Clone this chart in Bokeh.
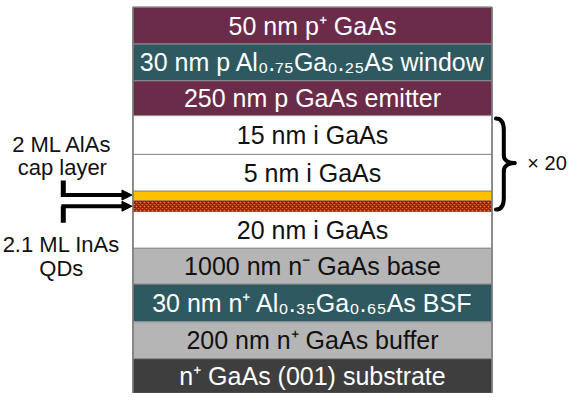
from bokeh.plotting import figure
from bokeh.models import Range1d, Arrow, NormalHead, ColumnDataSource
from bokeh.core.properties import value
from bokeh.embed import file_html
from bokeh.resources import INLINE

# ---------------- data ----------------
layer_labels = [
    "50 nm p\u207a GaAs",
    "30 nm p Al\u2080.\u2087\u2085Ga\u2080.\u2082\u2085As window",
    "250 nm p GaAs emitter",
    "15 nm i GaAs",
    "5 nm i GaAs",
    "",
    "",
    "20 nm i GaAs",
    "1000 nm n\u207b GaAs base",
    "30 nm n\u207a Al\u2080.\u2083\u2085Ga\u2080.\u2086\u2085As BSF",
    "200 nm n\u207a GaAs buffer",
    "n\u207a GaAs (001) substrate",
]
layer_kinds = ["pGaAs", "window", "pGaAs", "iGaAs", "iGaAs", "AlAs", "InAsQD",
               "iGaAs", "nGaAs", "bsf", "nGaAs", "substrate"]
# drawn thickness of each layer in the diagram (not to scale)
layer_rows = [38, 38, 36, 40, 38, 10, 11, 38, 37, 39, 38, 36]

cap_label = ["2 ML AlAs", "cap layer"]
qd_label = ["2.1 ML InAs", "QDs"]
repeat_label = "\u00d7 20"

# ---------------- styles ----------------
kind_fill = {"pGaAs": "#6b2c4a", "window": "#2f5961", "iGaAs": "#ffffff",
             "AlAs": "#ffc000", "InAsQD": "#e0701e", "nGaAs": "#b5b5b5",
             "bsf": "#2f5961", "substrate": "#3e3e3e"}
kind_text = {"pGaAs": "#ffffff", "window": "#ffffff", "iGaAs": "#111111",
             "AlAs": "#111111", "InAsQD": "#111111", "nGaAs": "#111111",
             "bsf": "#ffffff", "substrate": "#ffffff"}
FONT = value("Liberation Sans")

X0, X1, Y0 = 135, 501, 7
tops, bottoms = [], []
y = Y0
for h in layer_rows:
    tops.append(y)
    bottoms.append(y + h)
    y += h

src = ColumnDataSource(dict(
    top=tops, bottom=bottoms,
    fill=[kind_fill[k] for k in layer_kinds],
    tcol=[kind_text[k] for k in layer_kinds],
    label=layer_labels,
    ymid=[(a + b) / 2 for a, b in zip(tops, bottoms)],
    xmid=[(X0 + X1) / 2] * len(tops),
))

p = figure(width=571, height=393, x_range=Range1d(0, 582), y_range=Range1d(406, 0),
           output_backend="svg", toolbar_location=None, min_border=0,
           x_axis_location=None, y_axis_location=None)
p.grid.visible = False
p.outline_line_color = None
p.background_fill_color = "white"

p.quad(left=X0, right=X1, top="top", bottom="bottom", fill_color="fill",
       line_color="#8e8e8e", line_width=1, source=src)

qi = layer_kinds.index("InAsQD")
p.quad(left=X0, right=X1, top=tops[qi], bottom=bottoms[qi], fill_color="#e0701e",
       hatch_pattern="diagonal_cross", hatch_color="#8e1a0c", hatch_scale=4,
       hatch_weight=1.5, line_color=None)

p.quad(left=X0, right=X1, top=tops[0], bottom=bottoms[-1], fill_color=None,
       line_color="#7a7a7a", line_width=1.5)

p.text(x="xmid", y="ymid", text="label", text_color="tcol", text_font=FONT,
       text_font_size="25px", text_align="center", text_baseline="middle", source=src)

# left callouts
ai = layer_kinds.index("AlAs")
ya = (tops[ai] + bottoms[ai]) / 2 - 1
yq = (tops[qi] + bottoms[qi]) / 2
p.segment(x0=[64, 64], y0=[186, yq], x1=[64, 64], y1=[ya + 2, yq + 17],
          line_color="black", line_width=5)
for yy in (ya, yq):
    p.add_layout(Arrow(end=NormalHead(size=10, fill_color="black", line_color="black"),
                       x_start=62, y_start=yy, x_end=X0 - 1, y_end=yy,
                       line_color="black", line_width=4))

p.text(x=[63, 63], y=[149, 173], text=cap_label, text_font=FONT, text_font_size="22px",
       text_align="center", text_baseline="middle", text_color="#111111")
p.text(x=[62, 62], y=[252, 277], text=qd_label, text_font=FONT, text_font_size="22px",
       text_align="center", text_baseline="middle", text_color="#111111")

# brace
bx0, bx1, bxm = 505, 513, 524
bt, bm, bb = tops[3] + 3, 168, bottoms[qi] - 2
p.bezier(x0=[bx0, bx1, bxm, bx1], y0=[bt, bm - 8, bm, bb - 12],
         x1=[bx1, bxm, bx1, bx0], y1=[bt + 12, bm, bm + 8, bb],
         cx0=[bx1 - 2, bx1, bx1 + 5, bx1], cy0=[bt, bm - 3, bm, bb - 5],
         cx1=[bx1, bx1 + 5, bx1, bx1 - 2], cy1=[bt + 5, bm, bm + 3, bb],
         line_color="black", line_width=4, line_cap="round")
p.segment(x0=[bx1, bx1], y0=[bt + 12, bm + 8], x1=[bx1, bx1], y1=[bm - 8, bb - 12],
          line_color="black", line_width=4)

p.text(x=[537], y=[168], text=[repeat_label], text_font=FONT, text_font_size="20px",
       text_align="left", text_baseline="middle", text_color="#111111")

open("out.html", "w").write(file_html(p, INLINE))
